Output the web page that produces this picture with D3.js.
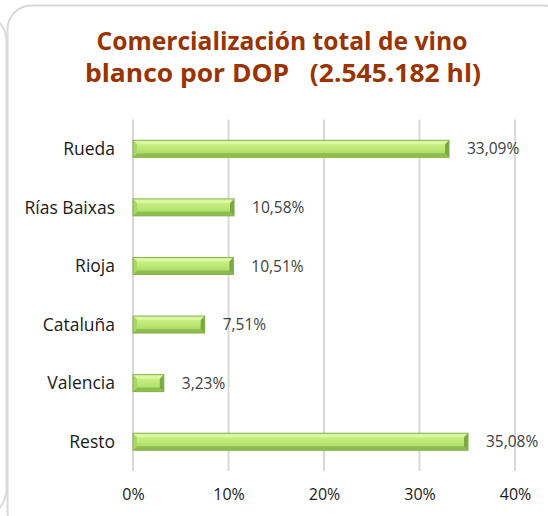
<!DOCTYPE html>
<html><head><meta charset="utf-8">
<script src="https://cdn.jsdelivr.net/npm/d3@7"></script>
<style>body{margin:0;background:#fff;}svg{display:block;}</style>
</head><body>
<svg id="c" width="548" height="516"></svg>
<script>
const categories = ["Rueda","Rías Baixas","Rioja","Cataluña","Valencia","Resto"];
const values = [33.09,10.58,10.51,7.51,3.23,35.08];
const valueLabels = ["33,09%","10,58%","10,51%","7,51%","3,23%","35,08%"];
const tickValues = [0,10,20,30,40];
const tickLabels = ["0%","10%","20%","30%","40%"];
const titleLines = ["Comercialización total de vino","blanco por DOP   (2.545.182 hl)"];

const svg = d3.select("#c");
const font = "'Open Sans', 'DejaVu Sans', sans-serif";

// frames
svg.append("path").attr("d","M -40 8 Q 5 12 6.5 40 L 6.5 490 Q 5 512 -20 520")
  .attr("fill","none").attr("stroke","#d9d9d9").attr("stroke-width",2);
svg.append("rect").attr("x",7.5).attr("y",5.5).attr("width",560).attr("height",530)
  .attr("rx",24).attr("ry",24).attr("fill","#fff").attr("stroke","#d9d9d9").attr("stroke-width",2);

// title
const tl = [[282,50,371],[283,82,396]];
titleLines.forEach((t,i)=>{
  svg.append("text").attr("x",tl[i][0]).attr("y",tl[i][1]).attr("text-anchor","middle")
    .attr("font-family",font).attr("font-weight","bold").attr("font-size",25)
    .attr("fill","#993300").attr("xml:space","preserve").style("white-space","pre")
    .attr("textLength",tl[i][2]).attr("lengthAdjust","spacingAndGlyphs").text(t);
});

const x = d3.scaleLinear().domain([0,40]).range([133,515]);
const y = d3.scaleBand().domain(categories).range([119.5,471]).paddingInner(0.71).paddingOuter(0.355);

// gridlines
svg.append("g").selectAll("line").data(tickValues).join("line")
  .attr("x1",d=>x(d)).attr("x2",d=>x(d)).attr("y1",119.5).attr("y2",471)
  .attr("stroke","#d9d9d9").attr("stroke-width",2);

// x axis
const xAxis = d3.axisBottom(x).tickValues(tickValues).tickFormat((d,i)=>tickLabels[i]).tickSize(0).tickPadding(0);
const gx = svg.append("g").attr("transform","translate(0,500)").call(xAxis);
gx.select(".domain").remove();
gx.selectAll("text").attr("font-family",font).attr("font-size",16).attr("fill","#1a1a1a").attr("dy","0");

// y axis
const yAxis = d3.axisLeft(y).tickSize(0).tickPadding(0);
const gy = svg.append("g").attr("transform","translate(115,0)").call(yAxis);
gy.select(".domain").remove();
gy.selectAll("text").attr("font-family",font).attr("font-size",17.5).attr("fill","#1a1a1a").attr("dy","0.36em");

// gradient
const defs = svg.append("defs");
const g = defs.append("linearGradient").attr("id","gb").attr("x1",0).attr("y1",0).attr("x2",0).attr("y2",1);
g.append("stop").attr("offset","0%").attr("stop-color","#d2f58e");
g.append("stop").attr("offset","50%").attr("stop-color","#bde876");
g.append("stop").attr("offset","100%").attr("stop-color","#a4d25d");

const bh = y.bandwidth();
const bars = svg.append("g").selectAll("g").data(categories).join("g");
bars.each(function(c,i){
  const gg = d3.select(this);
  const x0 = x(0), x1 = x(values[i]), y0 = y(c), y1 = y0 + bh;
  const b = 4;
  gg.append("rect").attr("x",x0).attr("y",y0).attr("width",x1-x0).attr("height",bh).attr("fill","url(#gb)");
  gg.append("path").attr("d",`M${x0},${y0}L${x1},${y0}L${x1-b},${y0+b}L${x0+b},${y0+b}Z`).attr("fill","#d9f8a0");
  gg.append("path").attr("d",`M${x0},${y1}L${x1},${y1}L${x1-b},${y1-b}L${x0+b},${y1-b}Z`).attr("fill","#8dbd4f");
  gg.append("path").attr("d",`M${x0},${y0}L${x0+b},${y0+b}L${x0+b},${y1-b}L${x0},${y1}Z`).attr("fill","#a9d865");
  gg.append("path").attr("d",`M${x1},${y0}L${x1-b},${y0+b}L${x1-b},${y1-b}L${x1},${y1}Z`).attr("fill","#7aa843");
  gg.append("rect").attr("x",x0).attr("y",y0).attr("width",x1-x0).attr("height",bh)
    .attr("fill","none").attr("stroke","#86b04e").attr("stroke-width",1);
  gg.append("text").attr("x",x1+18).attr("y",y0+bh/2).attr("dy","0.36em")
    .attr("font-family",font).attr("font-size",15.5).attr("fill","#404040").text(valueLabels[i]);
});
</script>
</body></html>
